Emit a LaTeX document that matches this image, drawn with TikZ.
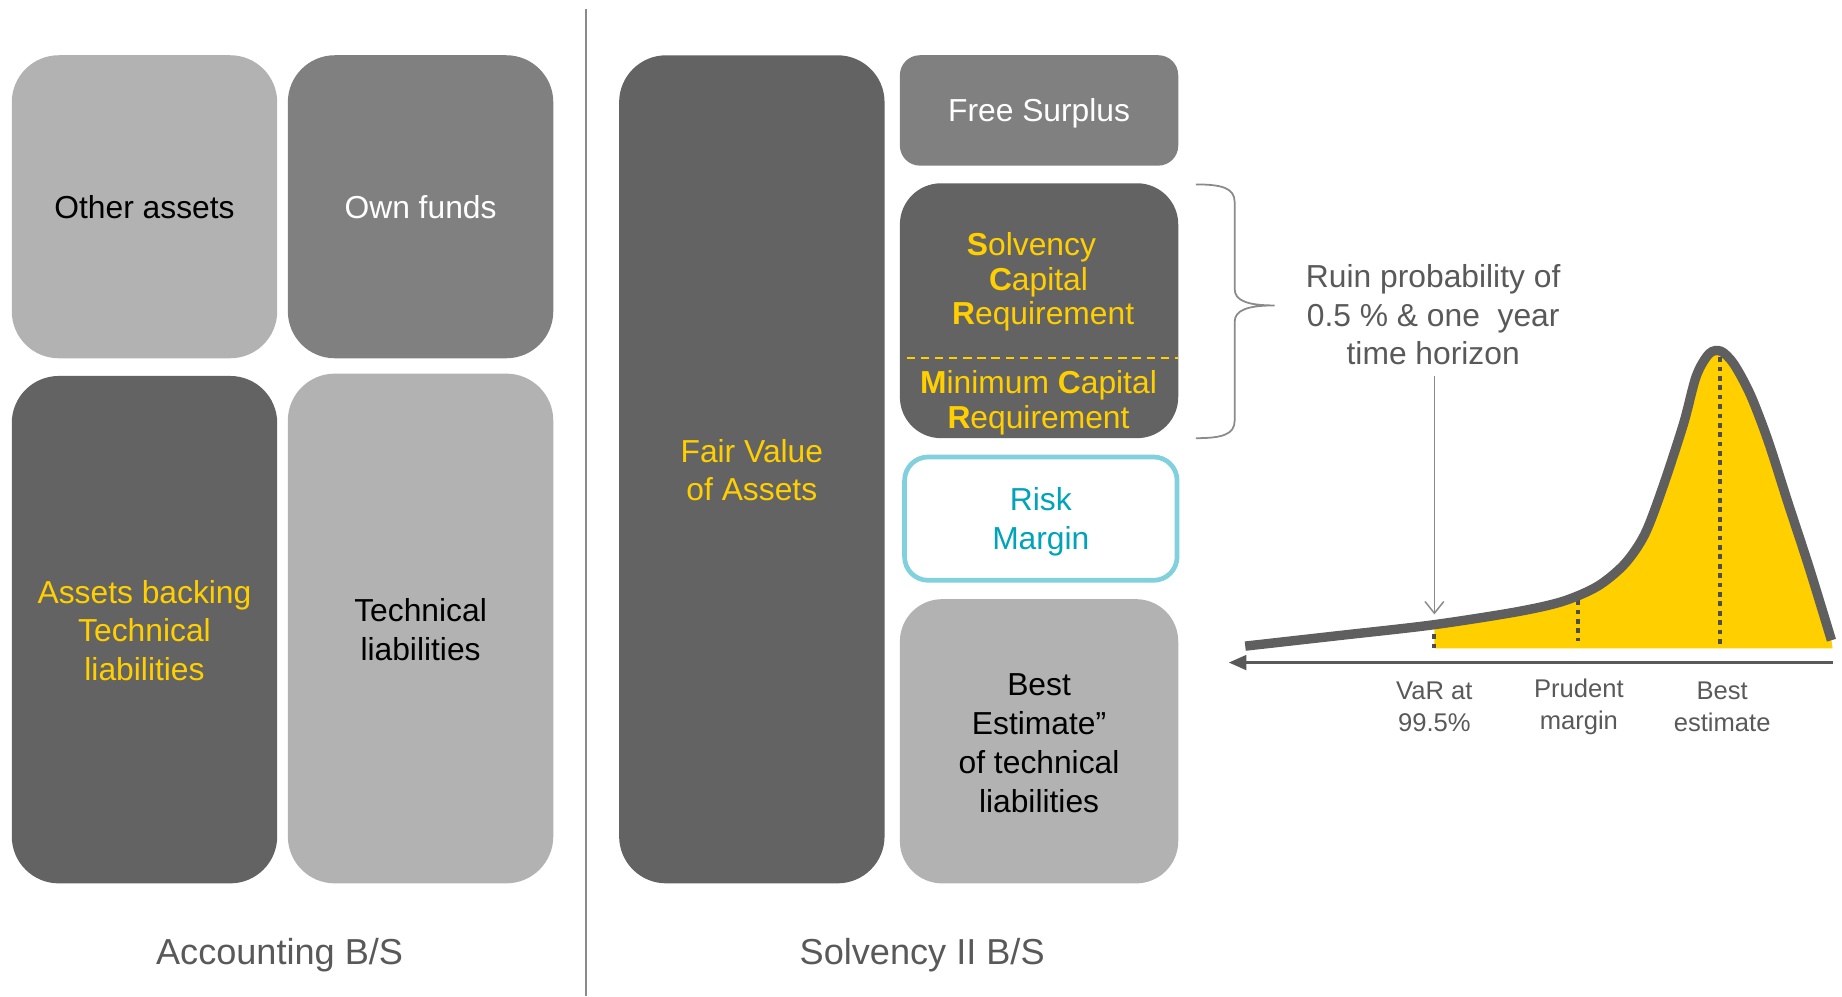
\documentclass[tikz,border=0pt]{standalone}
\usepackage{fontspec}
\setmainfont{Liberation Sans}
\usetikzlibrary{arrows.meta}
\definecolor{boxlight}{HTML}{B2B2B2}
\definecolor{boxmid}{HTML}{808080}
\definecolor{boxdark}{HTML}{636363}
\definecolor{gold}{HTML}{FFCF00}
\definecolor{riskedge}{HTML}{80D0DD}
\definecolor{riskteal}{HTML}{00A3B9}
\definecolor{labelgrey}{HTML}{595959}
\definecolor{curvegrey}{HTML}{5F5F5F}
\definecolor{dotgrey}{HTML}{4D4D4D}
\definecolor{rulegrey}{HTML}{8A8A8A}
\begin{document}
\begin{tikzpicture}[x=0.02cm,y=-0.02cm,
  block/.style={rectangle, rounded corners=0.8cm, minimum width=4.52cm, inner sep=0pt},
  boxtext/.style={align=center, inner sep=0pt, yshift=-0.015cm,
    font=\fontsize{15.4}{18.8}\selectfont},
  goldtext/.style={text=gold, align=center, inner sep=0pt, yshift=-0.04cm,
    font=\fontsize{15.4}{16.8}\selectfont},
  caption/.style={text=labelgrey, inner sep=0pt, yshift=-0.06cm,
    font=\fontsize{17.5}{21}\selectfont},
  note/.style={text=labelgrey, align=center, inner sep=0pt,
    font=\fontsize{15.4}{18.8}\selectfont},
  axislabel/.style={text=labelgrey, align=center, inner sep=0pt, yshift=-0.04cm,
    font=\fontsize{12.4}{15.4}\selectfont},
  marker/.style={dotgrey, line width=0.07cm, dash pattern=on 0.08cm off 0.08cm}]
\useasboundingbox (0,0) rectangle (1568,848);

% accounting balance sheet
\node[block, fill=boxlight, minimum height=5.16cm] (other) at (123,176) {};
\node[block, fill=boxmid, minimum height=5.16cm] (own) at (358,176) {};
\node[block, fill=boxdark, minimum height=8.64cm] (backing) at (123,536) {};
\node[block, fill=boxlight, minimum height=8.68cm] (techliab) at (358,535) {};
\node[boxtext] (othertext) at (other) {Other assets};
\node[boxtext, text=white] (owntext) at (own) {Own funds};
\node[boxtext, text=gold] (backingtext) at (backing) {Assets backing\\Technical\\liabilities};
\node[boxtext] (techliabtext) at (techliab) {Technical\\liabilities};
\node[caption] (acctitle) at (238,810) {Accounting B/S};

% separator
\coordinate (divtop) at (499,8);
\coordinate (divbot) at (499,848);
\draw[rulegrey, line width=0.03cm] (divtop) -- (divbot);

% solvency II balance sheet
\node[block, fill=boxdark, minimum height=14.1cm] (fairvalue) at (640,399.5) {};
\node[block, fill=boxmid, minimum width=4.74cm, minimum height=1.88cm,
  rounded corners=0.34cm] (surplus) at (884.5,94) {};
\node[block, fill=boxdark, minimum width=4.74cm, minimum height=4.34cm,
  rounded corners=0.7cm] (capital) at (884.5,264.5) {};
\node[block, draw=riskedge, line width=0.08cm, fill=white,
  minimum width=4.64cm, minimum height=2.1cm, rounded corners=0.4cm] (risk) at (886,441.5) {};
\node[block, fill=boxlight, minimum width=4.74cm, minimum height=4.84cm,
  rounded corners=0.72cm] (bestest) at (884.5,631) {};

\node[boxtext, text=gold] (fairvaluetext) at (fairvalue) {Fair Value\\of Assets};
\node[boxtext, text=white, yshift=-0.04cm] (surplustext) at (surplus) {Free Surplus};
\node[goldtext] (scr) at (884,238)
  {\textbf{S}olvency\hbox to 0.24cm{}\\\textbf{C}apital\\\hbox to 0.16cm{}\textbf{R}equirement};
\node[goldtext] (mcr) at (884,341) {\textbf{M}inimum \textbf{C}apital\\\textbf{R}equirement};
\draw[gold, line width=0.04cm, dash pattern=on 0.14cm off 0.1cm] (772,305) -- (1003,305);
\node[boxtext, text=riskteal, yshift=-0.04cm] (risktext) at (risk) {Risk\\Margin};
\node[boxtext, yshift=-0.02cm] (bestesttext) at (bestest) {Best\\Estimate”\\of technical\\liabilities};
\node[caption] (soltitle) at (785,810) {Solvency II B/S};

% brace grouping SCR and MCR
\draw[rulegrey, line width=0.03cm]
  (1018,157) .. controls (1040,157) and (1051,160) .. (1051,172) -- (1051,246)
  .. controls (1051,256) and (1062,260) .. (1085,260)
  .. controls (1062,260) and (1051,264) .. (1051,274) -- (1051,358)
  .. controls (1051,370) and (1040,373) .. (1018,373);
\node[note] (ruin) at (1220,268) {Ruin probability of\\0.5 \% \& one\ \ year\\time horizon};

% loss distribution
\begin{scope}
  \clip (1221,0) rectangle (1600,552);
  \fill[gold] plot[smooth, tension=0.5] coordinates {
    (1060,550) (1140,541) (1219,532) (1290,521) (1330,512) (1360,499) (1383,480)
    (1400,455) (1415,416) (1433,361) (1444,320) (1455,301) (1465,299) (1476,310)
    (1490,336) (1505,375) (1522,428) (1540,483) (1559,545)}
    -- (1560,552) -- (1060,552) -- cycle;
\end{scope}
\draw[marker] (1221,540) -- (1221,552);
\draw[marker] (1343,511) -- (1343,546);
\draw[marker] (1464,304) -- (1464,548);
\draw[curvegrey, line width=0.16cm] plot[smooth, tension=0.5] coordinates {
    (1060,550) (1140,541) (1219,532) (1290,521) (1330,512) (1360,499) (1383,480)
    (1400,455) (1415,416) (1433,361) (1444,320) (1455,301) (1465,299) (1476,310)
    (1490,336) (1505,375) (1522,428) (1540,483) (1559,545)};

% horizontal axis
\coordinate (axisright) at (1560,564);
\coordinate (axisleft) at (1046,564);
\draw[labelgrey, line width=0.05cm, -{Triangle[length=0.3cm,width=0.25cm]}]
  (axisright) -- (axisleft);

% arrow to the VaR point
\coordinate (arrstart) at (1221,320);
\coordinate (vartip) at (1221,523);
\draw[rulegrey, line width=0.025cm, -{Straight Barb[length=0.2cm,width=0.32cm]}]
  (arrstart) -- (vartip);

\node[axislabel] (varlabel) at (1221,600) {VaR at\\99.5\%};
\node[axislabel] (prudlabel) at (1344,600) {Prudent\\margin};
\node[axislabel] (bestlabel) at (1466,600) {Best\\estimate};
\end{tikzpicture}
\end{document}
